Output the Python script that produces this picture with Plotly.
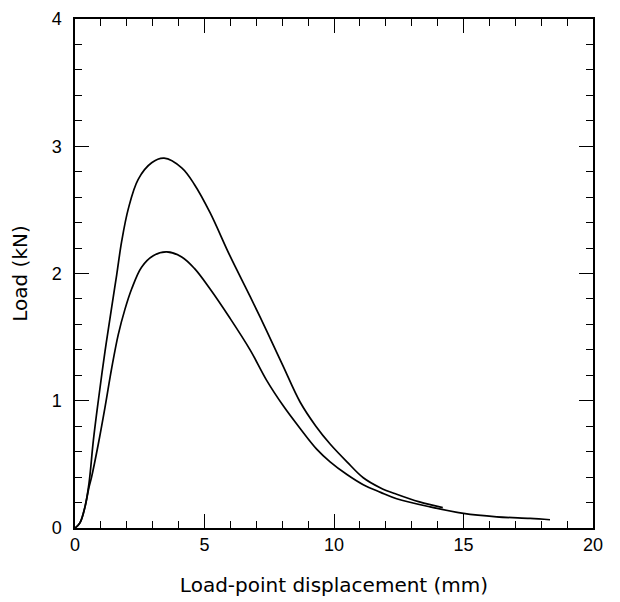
import plotly.graph_objects as go

# Upper curve (higher peak load)
upper_x = [0, 0.19, 0.39, 0.54, 0.71, 0.9, 1.16, 1.42, 1.61, 1.8, 2.06, 2.44, 2.96, 3.44, 4.12,
           4.61, 5.21, 5.98, 6.76, 7.4, 8.04, 8.69, 9.3, 9.85, 10.5, 11.13, 11.8, 12.42, 13.3, 14.2]
upper_y = [0, 0.04, 0.17, 0.35, 0.69, 1.0, 1.39, 1.74, 1.99, 2.25, 2.51, 2.74, 2.87, 2.906, 2.83,
           2.70, 2.48, 2.14, 1.82, 1.55, 1.27, 0.99, 0.80, 0.66, 0.52, 0.395, 0.315, 0.265, 0.205, 0.16]

# Lower curve (lower peak load)
lower_x = [0, 0.19, 0.39, 0.54, 0.64, 0.9, 1.16, 1.42, 1.67, 1.93, 2.19, 2.57, 3.02, 3.54, 4.12,
           4.61, 5.21, 5.98, 6.76, 7.4, 8.04, 8.7, 9.33, 9.85, 10.5, 11.13, 11.8, 12.42, 13.71,
           15.0, 16.28, 17.57, 18.34]
lower_y = [0, 0.04, 0.17, 0.32, 0.40, 0.66, 0.95, 1.26, 1.52, 1.72, 1.88, 2.05, 2.14, 2.17, 2.13,
           2.04, 1.88, 1.65, 1.40, 1.16, 0.96, 0.78, 0.62, 0.52, 0.42, 0.34, 0.28, 0.23, 0.166,
           0.115, 0.088, 0.075, 0.065]

fig = go.Figure()
for xs, ys in [(upper_x, upper_y), (lower_x, lower_y)]:
    fig.add_trace(go.Scatter(
        x=xs, y=ys, mode="lines",
        line=dict(color="black", width=1.7, shape="spline", smoothing=1.0),
        showlegend=False,
    ))

tick_font = dict(family="Liberation Sans, Arial", size=18, color="black")
title_font = dict(family="DejaVu Sans, Verdana", size=20, color="black")

axis_common = dict(
    showline=True, linecolor="black", linewidth=1.5,
    mirror="ticks", ticks="inside", ticklen=14, tickwidth=1.3, tickcolor="black",
    showgrid=False, zeroline=False, automargin=False,
    tickfont=tick_font, ticklabeloverflow="allow",
)

fig.update_xaxes(
    range=[0, 20], tickvals=[0, 5, 10, 15, 20],
    minor=dict(ticks="inside", dtick=1, ticklen=7, tickwidth=1.3, tickcolor="black", showgrid=False),
    title=dict(text="Load-point displacement (mm)", standoff=24, font=title_font),
    **axis_common,
)
fig.update_yaxes(
    range=[0, 4], tickvals=[0, 1, 2, 3, 4],
    ticklabelstandoff=8,
    minor=dict(ticks="inside", dtick=0.2, ticklen=7, tickwidth=1.3, tickcolor="black", showgrid=False),
    title=dict(text="Load (kN)", standoff=20, font=title_font),
    **axis_common,
)

# the page body has an 8px margin, so the plot box is shifted to line up with the reference
fig.update_layout(
    width=620, height=602,
    margin=dict(l=67, r=35, t=11, b=82),
    plot_bgcolor="white", paper_bgcolor="white",
)

fig.write_html("out.html")
